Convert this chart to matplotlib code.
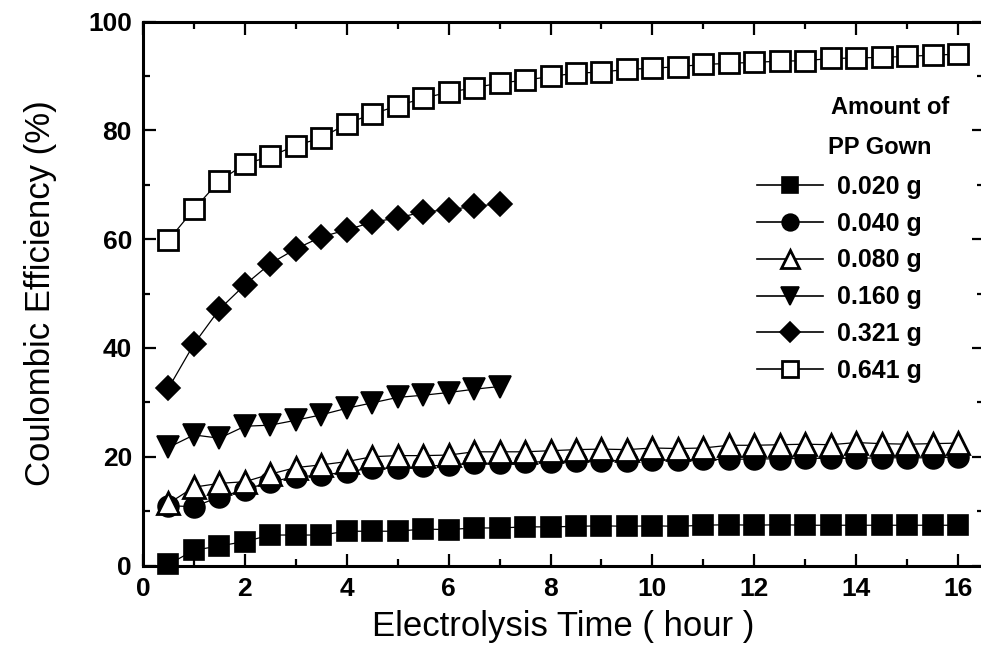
import matplotlib
matplotlib.use("Agg")
import matplotlib.pyplot as plt
from matplotlib.lines import Line2D
from matplotlib.ticker import MultipleLocator

plt.rcParams['font.family'] = ['Liberation Sans', 'DejaVu Sans']

# Electrolysis time (hours)
t_long = [0.5, 1.0, 1.5, 2.0, 2.5, 3.0, 3.5, 4.0, 4.5, 5.0, 5.5, 6.0, 6.5, 7.0, 7.5, 8.0,
          8.5, 9.0, 9.5, 10.0, 10.5, 11.0, 11.5, 12.0, 12.5, 13.0, 13.5, 14.0, 14.5, 15.0, 15.5, 16.0]
t_short = [0.5, 1.0, 1.5, 2.0, 2.5, 3.0, 3.5, 4.0, 4.5, 5.0, 5.5, 6.0, 6.5, 7.0]

# Coulombic efficiency (%) for each amount of PP gown
ce_0020 = [0.2, 2.8, 3.6, 4.4, 5.6, 5.6, 5.6, 6.3, 6.3, 6.3, 6.7, 6.6, 6.9, 6.9, 7.1, 7.1,
           7.2, 7.3, 7.2, 7.3, 7.2, 7.4, 7.5, 7.4, 7.5, 7.4, 7.4, 7.4, 7.4, 7.4, 7.4, 7.4]
ce_0040 = [11.0, 10.8, 12.6, 13.9, 15.4, 16.3, 16.6, 17.2, 17.9, 17.9, 18.2, 18.5, 18.8, 18.8, 19.0, 19.1,
           19.2, 19.3, 19.3, 19.4, 19.4, 19.5, 19.5, 19.6, 19.6, 19.7, 19.7, 19.7, 19.8, 19.8, 19.8, 19.9]
ce_0080 = [11.4, 14.4, 15.1, 15.4, 16.8, 18.0, 18.5, 19.1, 20.0, 20.2, 20.2, 20.3, 20.9, 20.9, 20.9, 21.1,
           21.3, 21.4, 21.3, 21.6, 21.5, 21.6, 22.1, 22.1, 22.2, 22.3, 22.2, 22.6, 22.4, 22.3, 22.4, 22.5]
ce_0160 = [21.7, 24.0, 23.4, 25.6, 25.8, 26.7, 27.7, 28.9, 29.9, 30.9, 31.3, 31.8, 32.4, 32.9]
ce_0321 = [32.6, 40.7, 47.1, 51.6, 55.5, 58.2, 60.4, 61.7, 63.1, 63.9, 65.0, 65.4, 66.0, 66.5]
ce_0641 = [59.8, 65.5, 70.7, 73.8, 75.2, 77.2, 78.6, 81.2, 83.0, 84.5, 85.9, 87.0, 87.8, 88.7, 89.2, 89.9,
           90.5, 90.7, 91.2, 91.4, 91.7, 92.1, 92.3, 92.5, 92.7, 92.8, 93.2, 93.3, 93.4, 93.6, 93.8, 94.0]

labels = ["0.020 g", "0.040 g", "0.080 g", "0.160 g", "0.321 g", "0.641 g"]

W, H = 981, 662
fig = plt.figure(figsize=(W / 100, H / 100), dpi=100)
ax = fig.add_axes([143 / W, 1 - 565.5 / H, (983.5 - 143) / W, (565.5 - 21.5) / H])

line_kw = dict(color='black', lw=0.9, clip_on=False)
series = [
    (t_long, ce_0020, dict(marker='s', ms=14, mfc='black', mec='black', mew=1.2)),
    (t_long, ce_0040, dict(marker='o', ms=15, mfc='black', mec='black', mew=1.2)),
    (t_long, ce_0080, dict(marker='^', ms=15.5, mfc='white', mec='black', mew=2.0)),
    (t_short, ce_0160, dict(marker='v', ms=15.5, mfc='black', mec='black', mew=1.2)),
    (t_short, ce_0321, dict(marker='D', ms=12.5, mfc='black', mec='black', mew=1.2)),
    (t_long, ce_0641, dict(marker='s', ms=14, mfc='white', mec='black', mew=2.0)),
]
handles = []
for (x, y, mk), lab in zip(series, labels):
    ax.plot(x, y, **line_kw, **mk)
    handles.append(Line2D([], [], color='black', lw=1.2, **mk))

ax.set_xlim(0, 16.5)
ax.set_ylim(0, 100)
ax.xaxis.set_major_locator(MultipleLocator(2))
ax.xaxis.set_minor_locator(MultipleLocator(1))
ax.yaxis.set_major_locator(MultipleLocator(20))
ax.yaxis.set_minor_locator(MultipleLocator(10))
ax.tick_params(which='both', direction='in', top=True, right=True, width=1.6)
ax.tick_params(which='major', length=9)
ax.tick_params(which='minor', length=5)
ax.tick_params(axis='both', labelsize=19, pad=8)
for lbl in ax.get_xticklabels() + ax.get_yticklabels():
    lbl.set_fontweight('bold')
for sp in ax.spines.values():
    sp.set_linewidth(2.2)

ax.set_xlabel("Electrolysis Time ( hour )", fontsize=25, labelpad=7)
ax.set_ylabel("Coulombic Efficiency (%)", fontsize=25, labelpad=22)

leg = ax.legend(handles, labels, loc='upper left',
                bbox_to_anchor=(757 / W, 1 - 175 / H), bbox_transform=fig.transFigure,
                frameon=False, borderpad=0, borderaxespad=0, markerscale=0.8,
                handlelength=2.65, handletextpad=0.55, labelspacing=0.51,
                prop=dict(size=18, weight='bold'))

fig.text(890 / W, 1 - 108 / H, "Amount of", ha='center', va='center',
         fontsize=17, fontweight='bold')
fig.text(880 / W, 1 - 147 / H, "PP Gown", ha='center', va='center',
         fontsize=17, fontweight='bold')

fig.savefig("out.png", dpi=100)
